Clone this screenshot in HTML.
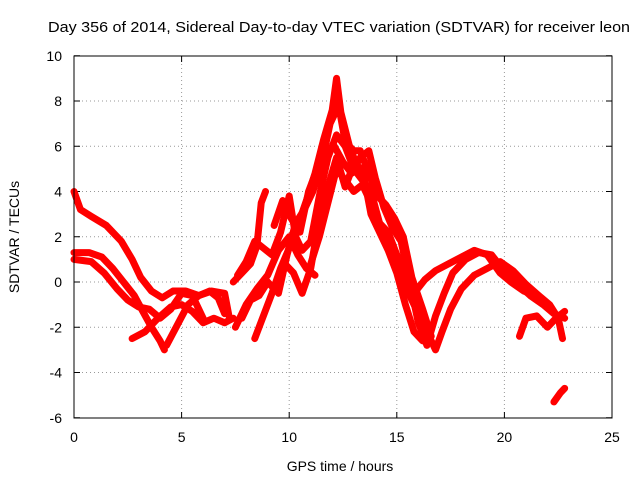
<!DOCTYPE html>
<html><head><meta charset="utf-8"><style>
body{margin:0;background:#fff}
svg{display:block;font-family:"Liberation Sans",sans-serif}
</style></head><body>
<svg id="chart" width="640" height="480">
<rect width="640" height="480" fill="#fff"/>
<text x="48" y="32" font-size="15" textLength="582" lengthAdjust="spacingAndGlyphs">Day 356 of 2014, Sidereal Day-to-day VTEC variation (SDTVAR) for receiver leon</text>
<text x="340" y="471" font-size="14" text-anchor="middle">GPS time / hours</text>
<text transform="translate(19,237) rotate(-90)" font-size="14" text-anchor="middle">SDTVAR / TECUs</text>
<g id="grid"></g><g id="ticks"></g><g id="series"></g>
<rect x="74" y="56" width="538" height="362" fill="none" stroke="#000"/>
</svg>
<script>
const xTicks=[0,5,10,15,20,25];
const yTicks=[-6,-4,-2,0,2,4,6,8,10];
const trA=[[0,4],[0.3,3.2],[0.8,2.9],[1.5,2.5],[2.2,1.8],[2.7,1],[3.1,0.2],[3.6,-0.4],[4.1,-0.7],[4.6,-0.4],[5.2,-0.4],[5.8,-0.6],[6.4,-0.4],[7,-0.5],[7.2,-1.5]];
const trB=[[0,1.3],[0.7,1.3],[1.3,1.1],[1.8,0.6],[2.3,0],[2.8,-0.6],[3.2,-1.3],[3.6,-2],[4,-2.6],[4.2,-3]];
const trC=[[0,1],[0.8,0.9],[1.4,0.4],[2,-0.3],[2.5,-0.8],[3,-1.1],[3.5,-1.2],[4,-1.6],[4.5,-1.2],[5,-0.5],[5.5,-0.6],[6,-1.6]];
const trD=[[2.7,-2.5],[3.3,-2.2],[3.9,-1.6],[4.5,-1.1],[5,-1],[5.5,-1.3],[6,-1.8],[6.5,-1.6],[7,-1.8],[7.4,-1.6]];
const trE=[[4.3,-2.8],[4.8,-1.9],[5.3,-1],[5.8,-0.6],[6.3,-0.4],[6.7,-0.7],[7,-1.4]];
const trF=[[7.4,0],[7.8,0.4],[8.2,0.8],[8.5,1.6],[8.7,3.5],[8.9,4]];
const trG=[[7.5,-2],[8,-1],[8.5,-0.3],[9,0.3],[9.5,1.4],[10,2],[10.4,1.2],[10.8,0.6],[11.2,0.3]];
const trH=[[8.4,-2.5],[8.8,-1.5],[9.2,-0.5],[9.6,0.6],[10,1.5],[10.4,2.5],[10.8,3.6],[11.2,4.8],[11.6,6.3],[12,7.6],[12.2,9],[12.4,7.5],[12.8,6],[13.2,5],[13.6,4.2],[14,3],[14.4,2.2],[14.8,1.6],[15.2,0.6],[15.6,-0.6],[16,-1.4],[16.4,-2.2],[16.8,-3],[17.1,-2.2],[17.5,-1.2],[18,-0.3],[18.6,0.3],[19.2,0.6],[19.8,0.9],[20.4,0.5],[21,-0.1],[21.6,-0.6],[22.1,-1],[22.5,-1.6],[22.7,-2.5]];
const trI=[[9.3,2.5],[9.7,3.6],[10.1,2.8],[10.5,2.2],[10.9,4],[11.3,5],[11.7,5.8],[12.1,6],[12.5,5.3],[12.9,4.8],[13.3,5.5],[13.7,5.8],[14,4.6],[14.4,3.3],[14.8,2.4],[15.2,1.8],[15.6,0],[16,-1.8],[16.4,-2.8],[16.8,-1.5],[17.2,-0.5],[17.6,0.4],[18.2,1],[18.8,1.3],[19.4,1.2],[19.9,0.6],[20.5,0],[21.2,-0.6],[21.8,-1],[22.3,-1.4],[22.8,-1.6]];
const trJ=[[15.8,-0.5],[16.3,0.1],[16.8,0.5],[17.4,0.8],[18,1.1],[18.6,1.4],[19.2,1.2],[19.8,0.4],[20.3,0],[20.9,-0.4],[21.5,-0.6]];
const trK=[[20.7,-2.4],[21,-1.6],[21.5,-1.5],[22,-2],[22.4,-1.6],[22.8,-1.3]];
const trL=[[22.3,-5.3],[22.6,-4.9],[22.8,-4.7]];
const trM=[[11,0.8],[11.4,2],[11.8,3.5],[12.2,5],[12.6,4.5],[13,4],[13.4,4.3],[13.8,3.5]];
const trN=[[7.6,0.3],[8,0.9],[8.4,1.8],[8.8,1.5],[9.2,1.2],[9.6,2.2],[10,3.8],[10.3,2],[10.6,1.4],[11,1.8],[11.4,3.8],[11.8,5.5],[12.2,6.5],[12.6,6],[13,5],[13.4,4.5],[13.8,4],[14.2,2.6],[14.6,2.2],[15,1.2],[15.4,0.5]];
const trO=[[7.8,-1.6],[8.2,-0.8],[8.6,-0.6],[9,0],[9.4,-0.4],[9.8,0.8],[10.2,0.4],[10.6,-0.5],[11,0.6],[11.4,2.8],[11.8,4.2],[12.2,5.5],[12.6,4.2],[13,5.2],[13.4,5],[13.8,3],[14.2,2.2],[14.6,1.4],[15,0.4],[15.4,-1],[15.8,-2.2],[16.2,-2.6]];
const trP=[[9.5,-0.5],[9.9,1.2],[10.3,2.6],[10.7,3.2],[11.1,4],[11.5,5.2],[11.9,7],[12.3,7.8],[12.6,6.2],[13,5.8],[13.3,5.8],[13.7,4.8],[14.1,3.8],[14.5,3.4],[14.9,2.8],[15.3,2],[15.7,0.2],[16.2,-1.2],[16.6,-2.4]];
const series=[trA,trB,trC,trD,trE,trF,trG,trH,trI,trJ,trK,trL,trM,trN,trO,trP];
const X=v=>74+v*538/25, Y=v=>282-v*362/16;
const NS="http://www.w3.org/2000/svg";
const g=document.getElementById('grid'),t=document.getElementById('ticks'),s=document.getElementById('series');
function mk(tag,attrs,parent){const e=document.createElementNS(NS,tag);for(const k in attrs)e.setAttribute(k,attrs[k]);parent.appendChild(e);return e;}
xTicks.forEach(v=>{
 if(v>0&&v<25){const l=mk('line',{x1:X(v),x2:X(v),y1:56,y2:418,stroke:'#999','stroke-dasharray':'1,3'},g);
 
 }
 const tx=mk('text',{x:X(v),y:442,'font-size':14,'text-anchor':'middle'},t);tx.textContent=v;
 
 
 mk('line',{x1:X(v),x2:X(v),y1:418,y2:412,stroke:'#000'},t);mk('line',{x1:X(v),x2:X(v),y1:56,y2:62,stroke:'#000'},t);
});
yTicks.forEach(v=>{
 if(v>-6&&v<10){const l=mk('line',{x1:74,x2:612,y1:Y(v),y2:Y(v),stroke:'#999','stroke-dasharray':'1,3'},g);
 
 }
 const tx=mk('text',{x:62,y:Y(v)+5,'font-size':14,'text-anchor':'end'},t);tx.textContent=v;
 
 
 mk('line',{x1:74,x2:80,y1:Y(v),y2:Y(v),stroke:'#000'},t);mk('line',{x1:612,x2:606,y1:Y(v),y2:Y(v),stroke:'#000'},t);
});
series.forEach((tr,i)=>{
 const p=mk('polyline',{points:tr.map(d=>X(d[0])+','+Y(d[1])).join(' '),fill:'none',stroke:'#f00','stroke-width':7,'stroke-linejoin':'round','stroke-linecap':'round'},s);
 
 
});
</script>
</body></html>
